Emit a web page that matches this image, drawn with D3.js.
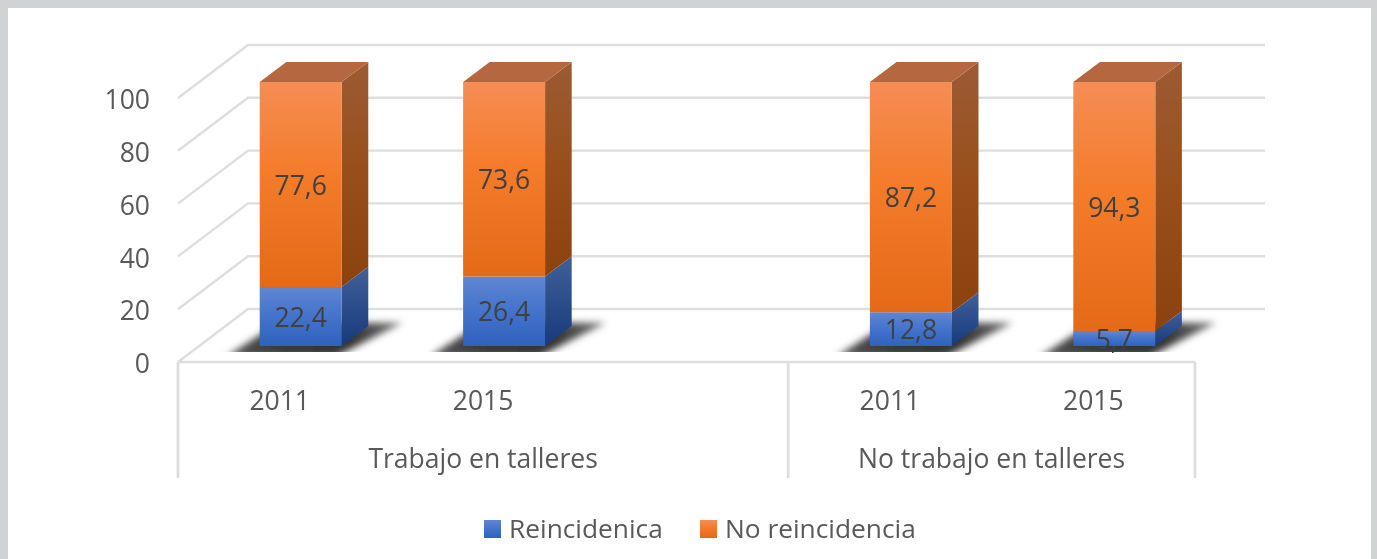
<!DOCTYPE html>
<html><head><meta charset="utf-8">
<script src="https://cdn.jsdelivr.net/npm/d3@7"></script>
<style>
html,body{margin:0;padding:0;background:#fff;overflow:hidden}
svg{display:block}
text{font-family:"Open Sans",sans-serif}
</style></head><body><svg id="c" width="1377" height="559"></svg>
<script>
const groups = ["Trabajo en talleres", "No trabajo en talleres"];
const slots = ["T2011", "T2015", "gap", "N2011", "N2015"];
const barSlots = ["T2011", "T2015", "N2011", "N2015"];
const years = ["2011", "2015", "2011", "2015"];
const reincidencia = [22.4, 26.4, 12.8, 5.7];
const noReincidencia = [77.6, 73.6, 87.2, 94.3];
const seriesNames = ["Reincidenica", "No reincidencia"];
const yTicks = [0, 20, 40, 60, 80, 100];

const W = 1377, H = 559, DX = 70, DY = 53, D0 = 0.30, D1 = 0.68, FS = 26.5, LFS = 26.3;
const fmt = v => String(v).replace(".", ",");
const svg = d3.select("#c");
const defs = svg.append("defs");
function grad(id, stops, x2 = 0, y2 = 1) {
  const g = defs.append("linearGradient").attr("id", id).attr("x1", 0).attr("y1", 0).attr("x2", x2).attr("y2", y2);
  stops.forEach(([o, c]) => g.append("stop").attr("offset", o).attr("stop-color", c));
}
grad("fo", [[0, "#F58D55"], [.45, "#F47B29"], [1, "#E46A18"]]);
grad("fb", [[0, "#6086D2"], [.5, "#4373CB"], [1, "#2F62BE"]]);
grad("so", [[0, "#9C5B34"], [.5, "#984E1A"], [1, "#8C420D"]]);
grad("sb", [[0, "#41609B"], [1, "#173A7B"]]);
grad("shf", [[0, "#555"], [.3, "#3a3a3a"], [.7, "#333"], [1, "#777"]], 1, 0);
defs.append("filter").attr("id", "sh").attr("x", "-30%").attr("y", "-40%").attr("width", "160%").attr("height", "180%")
  .append("feGaussianBlur").attr("stdDeviation", 3.5);
defs.append("clipPath").attr("id", "floorClip").append("rect").attr("x", 170).attr("y", 300).attr("width", 1100).attr("height", 52);

svg.append("rect").attr("width", W).attr("height", H).attr("fill", "#D0D2D3");
svg.append("rect").attr("x", 8).attr("y", 8).attr("width", 1363).attr("height", H - 8).attr("fill", "#fff");

const root = svg.append("g").style("filter", "blur(0.6px)");

const x = d3.scaleBand().domain(slots).range([178, 1195]).paddingInner(0.597).paddingOuter(0.2985);
const y = d3.scaleLinear().domain([0, 100]).range([362, 98]);
const P = (px, v, d) => [px + DX * d, y(v) - DY * d];
const line = d3.line();
const grid = "#DEDEDE";

// gridlines: wall and left side
const gGrid = root.append("g").attr("fill", "none").attr("stroke", grid).attr("stroke-width", 2.4);
yTicks.forEach(v => {
  gGrid.append("path").attr("d", line([P(178, v, 0), P(178, v, 1), P(1195, v, 1)]));
});
// floor front edge and group separators
const sepX = [178, x("N2011") - x.step() * 0.2985, 1195];
gGrid.append("path").attr("d", line([[178, y(0)], [1195, y(0)]]));
sepX.forEach(sx => gGrid.append("path").attr("d", line([[sx, y(0)], [sx, 478]])).attr("stroke-width", 2.8));

// y axis labels
root.append("g").selectAll("text").data(yTicks).join("text")
  .attr("x", 150).attr("y", d => y(d)).attr("dy", "0.42em").attr("text-anchor", "end")
  .attr("font-size", FS).attr("fill", "#595959").text(d => d);

// shadows
const gShadow = root.append("g").attr("clip-path", "url(#floorClip)");
barSlots.forEach(s => {
  const l = x(s), r = l + x.bandwidth();
  gShadow.append("path").attr("filter", "url(#sh)").attr("fill", "url(#shf)")
    .attr("d", line([P(l - 20, 0, 0.10), P(r + 8, 0, 0.10), P(r + 30, 0, 0.74), P(l - 12, 0, 0.74)]) + "Z");
});

// bars
const stacks = barSlots.map((s, i) => ({ s, a: reincidencia[i], b: noReincidencia[i] }));
function segment(g, s, v0, v1, front, side) {
  const l = x(s), r = l + x.bandwidth();
  g.append("path").attr("fill", `url(#${side})`)
    .attr("d", line([P(r, v0, D0), P(r, v0, D1), P(r, v1, D1), P(r, v1, D0)]) + "Z");
  g.append("path").attr("fill", `url(#${front})`)
    .attr("d", line([P(l, v0, D0), P(r, v0, D0), P(r, v1, D0), P(l, v1, D0)]) + "Z");
}
const gBars = root.append("g");
stacks.forEach(d => {
  segment(gBars, d.s, 0, d.a, "fb", "sb");
  segment(gBars, d.s, d.a, d.a + d.b, "fo", "so");
  const l = x(d.s), r = l + x.bandwidth(), t = d.a + d.b;
  gBars.append("path").attr("fill", "#B5683F")
    .attr("d", line([P(l, t, D0), P(r, t, D0), P(r, t, D1), P(l, t, D1)]) + "Z");
});

// data labels
const gLab = root.append("g").attr("text-anchor", "middle").attr("font-size", FS).attr("fill", "#404040");
stacks.forEach(d => {
  const cx = x(d.s) + x.bandwidth() / 2 + DX * D0;
  gLab.append("text").attr("x", cx).attr("y", y(d.a / 2) - DY * D0).attr("dy", "0.38em").text(fmt(d.a));
  gLab.append("text").attr("x", cx).attr("y", y(d.a + d.b / 2) - DY * D0).attr("dy", "0.38em").text(fmt(d.b));
});

// category axis
const gCat = root.append("g").attr("text-anchor", "middle").attr("font-size", FS).attr("fill", "#595959");
barSlots.forEach((s, i) => {
  gCat.append("text").attr("x", x(s) + x.bandwidth() / 2).attr("y", 409.5).text(years[i]);
});
groups.forEach((g, i) => {
  gCat.append("text").attr("x", (sepX[i] + sepX[i + 1]) / 2).attr("y", 468).text(g);
});

// legend
const legX = [484, 700], legFill = ["fb", "fo"];
seriesNames.forEach((n, i) => {
  root.append("rect").attr("x", legX[i]).attr("y", 520).attr("width", 17).attr("height", 18).attr("fill", `url(#${legFill[i]})`);
  root.append("text").attr("x", legX[i] + 25).attr("y", 538).attr("font-size", LFS).attr("fill", "#595959").text(n);
});
</script></body></html>
